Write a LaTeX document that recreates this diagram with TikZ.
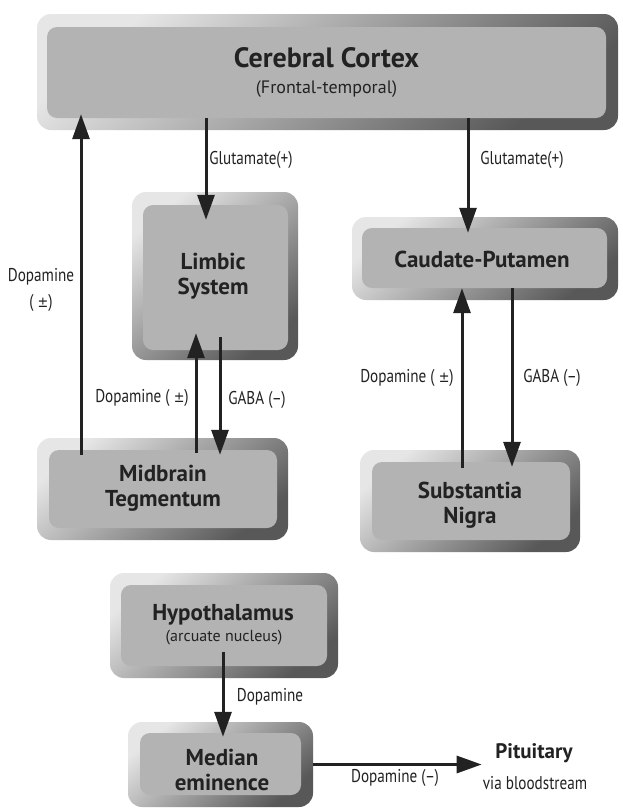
\documentclass[tikz,border=0pt]{standalone}
\usepackage{fontspec}
\setmainfont{PT Sans}
\newfontfamily\condfont{PT Sans}[FakeStretch=0.82]
\newfontfamily\pmfont{DejaVu Sans}[FakeStretch=0.85]
\newcommand\pmglyph{{\pmfont\fontsize{15}{18}\selectfont ±}}
\usetikzlibrary{arrows.meta}
\definecolor{coregray}{HTML}{B3B3B3}
\definecolor{framelight}{HTML}{E6E6E6}
\definecolor{framedark}{HTML}{585858}
\definecolor{ink}{HTML}{222222}
\tikzset{
  boxframe/.style={rounded corners=14pt, top color=framelight, bottom color=framedark, shading angle=40, draw=none, inner sep=0pt},
  boxcore/.style={rounded corners=10pt, fill=coregray, draw=none, inner sep=0pt},
  boxtext/.style={text=ink, align=center, inner sep=0pt, font=\bfseries\fontsize{23}{25}\selectfont},
  subtext/.style={text=ink, align=center, inner sep=0pt},
  lbl/.style={text=ink, align=center, inner sep=0pt, font=\condfont\fontsize{18.5}{26}\selectfont},
  arr/.style={line width=3pt, draw=ink, -{Triangle[length=25pt,width=17pt]}},
}
\begin{document}
\begin{tikzpicture}[x=1pt,y=-1pt]
\fill[white] (0,0) rectangle (623,809);
\useasboundingbox (0,0) rectangle (623,809);

% Cerebral Cortex
\node[boxframe, minimum width=581pt, minimum height=116pt] (cortexO) at (327.5,72) {};
\node[boxcore, minimum width=559pt, minimum height=91pt] (cortex) at (326.5,72.5) {};
\node[subtext, anchor=base, font=\bfseries\fontsize{28}{30}\selectfont] (cortexT1) at (326.5,67) {Cerebral Cortex};
\node[subtext, anchor=base, font=\fontsize{18}{20}\selectfont] (cortexT2) at (326.5,93) {(Frontal-temporal)};

% Limbic System
\node[boxframe, minimum width=166pt, minimum height=168pt] (limbicO) at (215,276) {};
\node[boxcore, minimum width=145pt, minimum height=145pt] (limbic) at (215.5,277.5) {};
\node[boxtext] (limbicT) at (213,276) {Limbic\\System};

% Caudate-Putamen
\node[boxframe, minimum width=266pt, minimum height=83pt] (caudateO) at (485,258.5) {};
\node[boxcore, minimum width=245pt, minimum height=60pt] (caudate) at (484.5,258) {};
\node[boxtext] (caudateT) at (482,259) {Caudate-Putamen};

% Midbrain Tegmentum
\node[boxframe, minimum width=251pt, minimum height=102pt] (midbrainO) at (162.5,489) {};
\node[boxcore, minimum width=228pt, minimum height=78pt] (midbrain) at (163,489) {};
\node[boxtext] (midbrainT) at (163,488) {Midbrain\\Tegmentum};

% Substantia Nigra
\node[boxframe, minimum width=220pt, minimum height=102pt] (substantiaO) at (470,501) {};
\node[boxcore, minimum width=198pt, minimum height=78pt] (substantia) at (471,501) {};
\node[boxtext] (substantiaT) at (470,505) {Substantia\\Nigra};

% Hypothalamus
\node[boxframe, minimum width=228pt, minimum height=105pt] (hypoO) at (224,625.5) {};
\node[boxcore, minimum width=206pt, minimum height=81pt] (hypo) at (224,625.5) {};
\node[boxtext] (hypoT1) at (223,615) {Hypothalamus};
\node[subtext, font=\fontsize{16}{19}\selectfont] (hypoT2) at (224,638) {(arcuate nucleus)};

% Median eminence
\node[boxframe, minimum width=185pt, minimum height=85pt] (medianO) at (220.5,764.5) {};
\node[boxcore, minimum width=161pt, minimum height=62pt] (median) at (220.5,764) {};
\node[boxtext] (medianT) at (222,770) {Median\\eminence};

% Pituitary
\node[subtext, font=\bfseries\fontsize{21}{24}\selectfont] (pit) at (534,753) {Pituitary};
\node[subtext, inner sep=1pt, font=\condfont\fontsize{18.5}{22}\selectfont] (pitSub) at (535,783) {via bloodstream};

% Connectors
\draw[arr] ([xshift=-120.5pt]cortex.south) -- ([xshift=-9.5pt,yshift=-15pt]limbic.north);
\draw[arr] ([xshift=141.5pt]cortex.south) -- ([xshift=-16.5pt,yshift=-5pt]caudate.north);
\draw[arr] ([xshift=-82pt,yshift=-5pt]midbrain.north) -- ([xshift=-245.5pt,yshift=4pt]cortex.south);
\draw[arr] ([xshift=33pt,yshift=-3pt]midbrain.north) -- ([xshift=-19.5pt,yshift=17pt]limbic.south);
\draw[arr] ([xshift=4.5pt,yshift=13pt]limbic.south) -- ([xshift=57pt,yshift=-5pt]midbrain.north);
\draw[arr] ([xshift=-9pt,yshift=-6pt]substantia.north) -- ([xshift=-22.5pt]caudate.south);
\draw[arr] ([xshift=27.5pt]caudate.south) -- ([xshift=41pt,yshift=-5pt]substantia.north);
\draw[arr] ([xshift=-1pt,yshift=14pt]hypo.south) -- ([xshift=2.5pt,yshift=-4pt]median.north);
\draw[arr] (medianO.east) -- (medianO.east -| pitSub.west);

% Connector labels
\node[lbl] (glu1) at (251,160) {Glutamate(+)};
\node[lbl] (glu2) at (522,160) {Glutamate(+)};
\node[lbl] (dopL) at (41,290) {Dopamine\\( \pmglyph)};
\node[lbl] (dopM) at (142,398) {Dopamine ( \pmglyph)};
\node[lbl] (gabaM) at (257,400) {GABA (–)};
\node[lbl] (dopR) at (407,378) {Dopamine ( \pmglyph)};
\node[lbl] (gabaR) at (552,378) {GABA (–)};
\node[lbl] (dopH) at (270,697) {Dopamine};
\node[lbl] (dopP) at (395,778) {Dopamine (–)};
\end{tikzpicture}
\end{document}
